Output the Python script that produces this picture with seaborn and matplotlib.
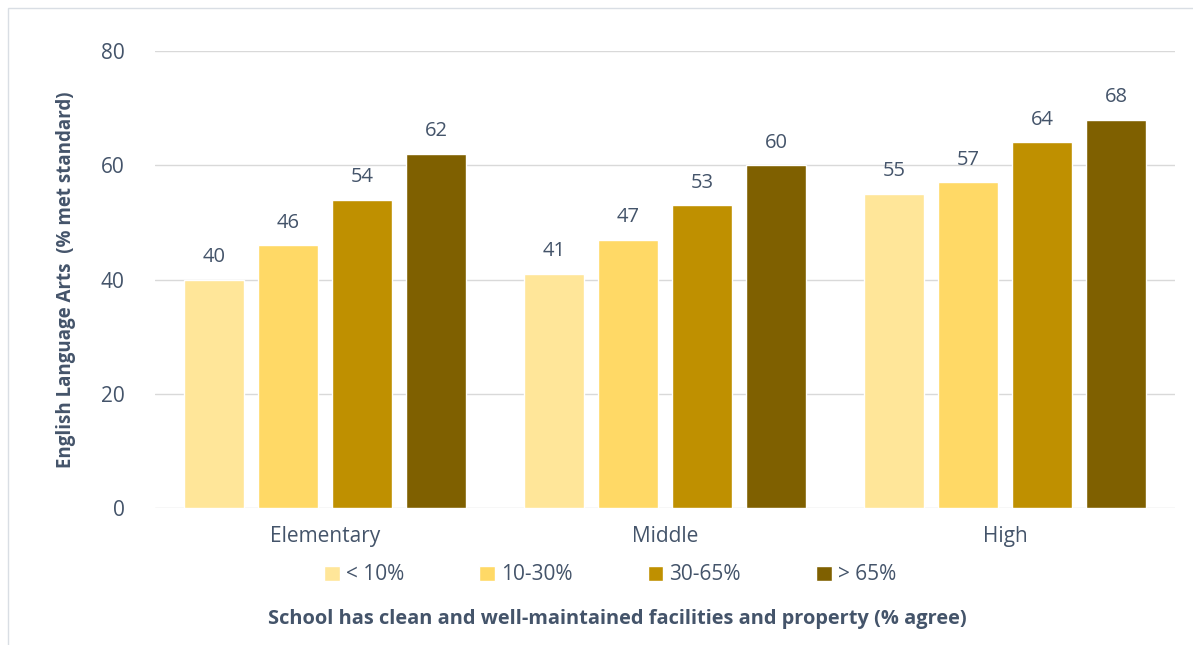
import pandas as pd
import matplotlib.pyplot as plt
import seaborn as sns
from matplotlib.patches import Rectangle

# data
levels = ["Elementary", "Middle", "High"]
groups = ["< 10%", "10-30%", "30-65%", "> 65%"]
lt10 = [40, 41, 55]
p10_30 = [46, 47, 57]
p30_65 = [54, 53, 64]
gt65 = [62, 60, 68]
colors = ["#FFE699", "#FFD966", "#BF9000", "#7F6000"]

df = pd.DataFrame({
    "level": levels * 4,
    "group": [g for g in groups for _ in levels],
    "value": lt10 + p10_30 + p30_65 + gt65,
})

text_col = "#44546A"
sns.set_style("white")
plt.rcParams["font.family"] = ["Open Sans", "DejaVu Sans"]

fig = plt.figure(figsize=(11.93, 6.45), dpi=100)
ax = fig.add_axes([155 / 1193, 1 - 508 / 645, 1020 / 1193, (508 - 51) / 645])

sns.barplot(data=df, x="level", y="value", hue="group", order=levels,
            hue_order=groups, palette=colors, width=0.87, gap=0.2,
            saturation=1, ax=ax, legend=True, zorder=3)

for c in ax.containers:
    ax.bar_label(c, fmt="%d", padding=9, fontsize=14.5, color=text_col)

ax.set_ylim(0, 80)
ax.set_yticks([0, 20, 40, 60, 80])
ax.yaxis.grid(True, color="#D9D9D9", linewidth=1, zorder=0)
ax.set_axisbelow(True)
for s in ax.spines.values():
    s.set_visible(False)
ax.tick_params(axis="both", length=0, labelsize=15, labelcolor=text_col)
ax.tick_params(axis="y", pad=22)
ax.tick_params(axis="x", pad=13)
ax.set_xlabel("")
ax.set_ylabel("English Language Arts  (% met standard)", fontsize=13.5,
              fontweight="bold", color=text_col, labelpad=18)

ax.legend(loc="center", bbox_to_anchor=(610 / 1193, 1 - 575 / 645),
          bbox_transform=fig.transFigure, ncol=4, frameon=False,
          fontsize=15, labelcolor=text_col, handlelength=0.75,
          handleheight=0.75, handletextpad=0.3, columnspacing=3.6)

fig.text(617 / 1193, 1 - 619 / 645,
         "School has clean and well-maintained facilities and property (% agree)",
         ha="center", va="center", fontsize=14.4, fontweight="bold", color=text_col)

fig.patches.append(Rectangle((8 / 1193, -0.01), 1.1, 1 - 8 / 645 + 0.01,
                             transform=fig.transFigure, fill=False,
                             edgecolor="#D9DEE4", linewidth=1))

fig.savefig("out.png", dpi=100)
